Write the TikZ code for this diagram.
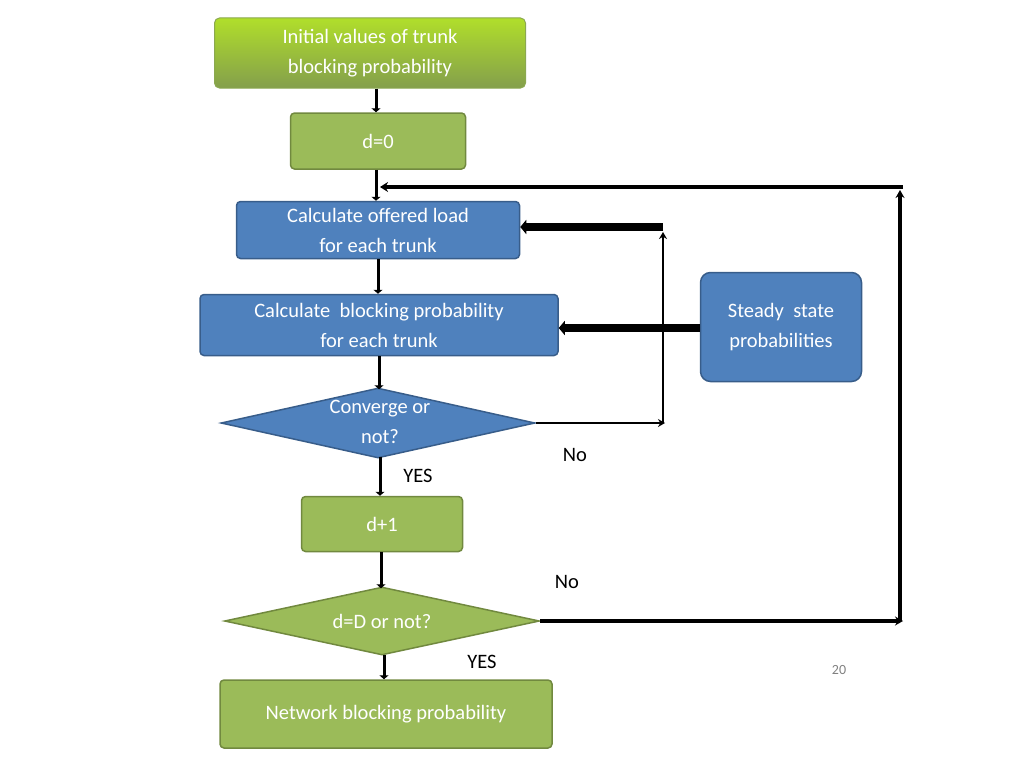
\documentclass[tikz,border=0pt]{standalone}
\usepackage{fontspec}
\setmainfont{Carlito}
\usetikzlibrary{shapes.geometric,arrows.meta}
\definecolor{gfill}{HTML}{9BBB59}
\definecolor{gline}{HTML}{71893F}
\definecolor{bfill}{HTML}{4F81BD}
\definecolor{bline}{HTML}{385D8A}
\begin{document}
\begin{tikzpicture}[x=1pt,y=-1pt,
  txt/.style={font=\fontsize{20.5}{30}\selectfont,text=white,align=center},
  gbox/.style={txt,draw=gline,fill=gfill,line width=1.5pt,rounded corners=4pt,minimum width=#1},
  bbox/.style={txt,draw=bline,fill=bfill,line width=1.5pt,rounded corners=4pt,minimum width=#1},
  dia/.style={txt,diamond,aspect=4.5,inner sep=0pt,line width=1.5pt,minimum width=#1},
  lbl/.style={font=\fontsize{20.5}{24}\selectfont,text=black},
  flow/.style={line width=3pt,-{Triangle[length=4pt,width=9pt]}},
  thin/.style={line width=2.5pt,-{Stealth[length=7pt,width=8pt]}},
  bar/.style={line width=8pt,-{Triangle[length=6pt,width=14pt]}}]
\useasboundingbox (0,0) rectangle (1024,768);
\node[txt,minimum width=311pt,minimum height=70pt,rounded corners=5pt,draw=gfill!90!black,top color=gfill!80!green!60!yellow,bottom color=gfill!85!black,line width=1pt] (init) at (370,53) {Initial values of trunk\\blocking probability};
\node[gbox=175pt,minimum height=56pt] (d0) at (378,141) {d=0};
\node[bbox=283pt,minimum height=57pt] (load) at (378,230) {Calculate offered load\\for each trunk};
\node[bbox=358pt,minimum height=61pt] (blk) at (379,325) {Calculate\ \ blocking probability\\for each trunk};
\node[dia=314pt,minimum height=70pt,draw=bline,fill=bfill] (conv) at (378,423) {};
\node[txt] at (380,422) {Converge or\\not?};
\node[gbox=161pt,minimum height=55pt] (dp) at (382,524) {d+1};
\node[dia=315pt,minimum height=68pt,draw=gline,fill=gfill] (dD) at (382,621) {d=D or not?};
\node[gbox=332pt,minimum height=68pt] (net) at (386,714) {Network blocking probability};
\node[bbox=161pt,minimum height=109pt,rounded corners=10pt] (ss) at (781,327) {Steady\ \ state\\probabilities};
\draw[flow] (init.south -| 376,0) -- (d0.north -| 376,0);
\draw[flow] (d0.south -| 376,0) -- (load.north -| 376,0);
\draw[flow] (load.south -| 378,0) -- (blk.north -| 378,0);
\draw[flow] (blk.south -| 379,0) -- ([yshift=-2pt]conv.north -| 379,0);
\draw[flow] ([yshift=2pt]conv.south -| 380,0) -- (dp.north -| 380,0);
\draw[flow] (dp.south -| 381,0) -- ([yshift=-2pt]dD.north -| 381,0);
\draw[flow] ([yshift=1pt]dD.south -| 384,0) -- (net.north -| 384,0);
\coordinate (r1) at (903,621); \coordinate (r2) at (900,187);
\draw[line width=4pt,-{Stealth[length=8pt,width=9pt]}] (dD.east) -- (r1);
\draw[line width=4pt,-{Stealth[length=8pt,width=9pt]}] (900,621) -- (900,190);
\draw[line width=4pt,-{Stealth[length=8pt,width=10pt]}] (903,187) -- (380,187);
\coordinate (c1) at (665,423);
\draw[thin] (conv.east) -- (c1);
\draw[thin] (663,423) -- (663,232);
\draw[bar] (663,227) -- (load.east |- 0,227);
\draw[bar] (ss.west |- 0,328) -- (blk.east |- 0,328);
\node[lbl] at (575,455) {No};
\node[lbl] at (418,476) {YES};
\node[lbl] at (567,582) {No};
\node[lbl] at (482,662) {YES};
\node[font=\fontsize{14}{16}\selectfont,text=gray] at (839,670) {20};
\end{tikzpicture}
\end{document}
